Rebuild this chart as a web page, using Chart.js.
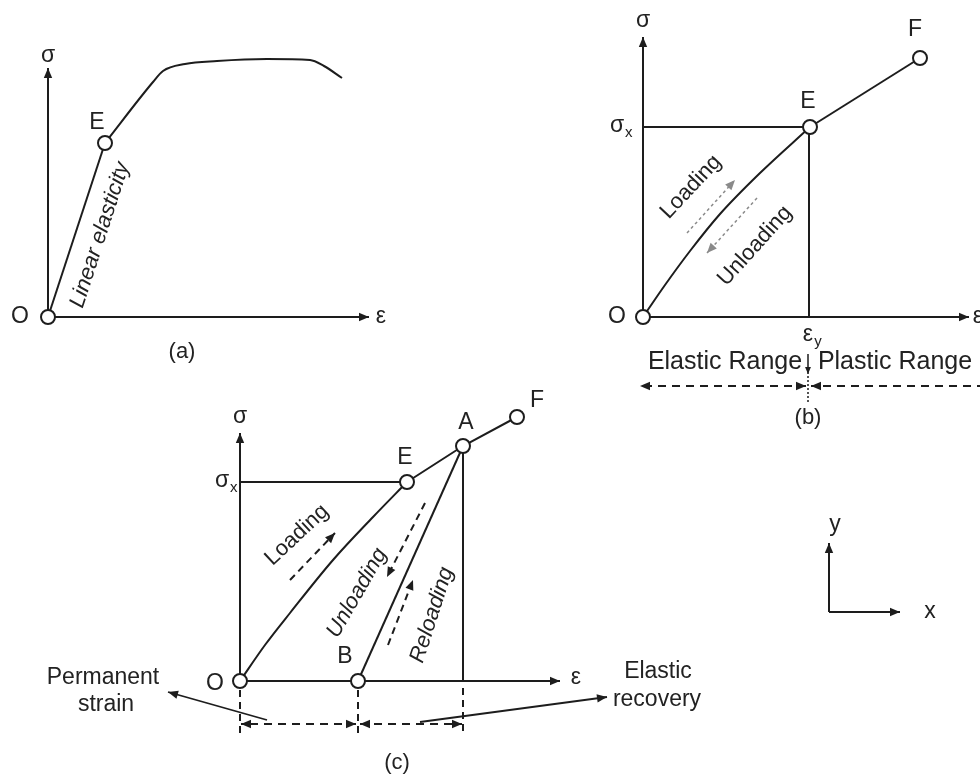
<!DOCTYPE html>
<html>
<head>
<meta charset="utf-8">
<script src="https://cdn.jsdelivr.net/npm/chart.js@4.4.0/dist/chart.umd.min.js"></script>
<style>
  html, body { margin: 0; padding: 0; background: #fff; }
  canvas { display: block; }
</style>
</head>
<body>
<canvas id="diagram" width="980" height="778"></canvas>
<script>
// Diagram data (sheet units, y grows downward)

// (a) linear elasticity
const aAxisY = [[48, 317], [48, 68]];
const aAxisX = [[48, 317], [369, 317]];
const aLinear = [[48, 317], [105, 143]];
const aCurve = [[105, 143], [153, 82], [163, 71], [185, 64], [217, 61], [267, 59], [310, 60], [324, 66], [342, 78]];
const aPoints = [[48, 317], [105, 143]];

// (b) elastic / plastic range
const bAxisY = [[643, 317], [643, 37]];
const bAxisX = [[643, 317], [969, 317]];
const bSigmaX = [[643, 127], [810, 127]];
const bEpsY = [[809, 127], [809, 317]];
const bCurve = [[643, 317], [665, 285], [690, 251], [720, 214], [760, 173], [810, 127]];
const bPlastic = [[810, 127], [920, 58]];
const bPoints = [[643, 317], [810, 127], [920, 58]];
const bLoadArrow = [[687, 233], [735, 180]];
const bUnloadArrow = [[757, 198], [707, 253]];
const bMarkArrow = [[808, 354], [808, 374]];
const bElasticRange = [[806, 386], [640, 386]];
const bPlasticRange = [[985, 386], [811, 386]];
const bDivider = [[808, 376], [808, 402]];

// (c) loading / unloading / reloading
const cAxisY = [[240, 681], [240, 433]];
const cAxisX = [[240, 681], [560, 681]];
const cSigmaX = [[240, 482], [407, 482]];
const cCurve = [[240, 681], [265, 645], [290, 613], [333, 560], [373, 517], [407, 482]];
const cPlastic = [[407, 482], [463, 446], [517, 417]];
const cUnload = [[358, 681], [463, 446]];
const cDrop = [[463, 446], [463, 681]];
const cTicks = [[[240, 690], [240, 734]], [[358, 690], [358, 734]], [[463, 688], [463, 734]]];
const cPermanent = [[356, 724], [241, 724]];
const cRecovery = [[360, 724], [462, 724]];
const cPermanentNote = [[267, 720], [168, 692]];
const cRecoveryNote = [[420, 722], [607, 697]];
const cLoadArrow = [[290, 580], [335, 533]];
const cUnloadArrow = [[425, 503], [387, 577]];
const cReloadArrow = [[388, 645], [413, 580]];
const cPoints = [[240, 681], [358, 681], [407, 482], [463, 446], [517, 417]];

// axes symbol
const xyAxisY = [[829, 612], [829, 543]];
const xyAxisX = [[829, 612], [900, 612]];

// text: [text, x, y, subscript]
const symbols = [
  ['σ', 48, 56], ['E', 97, 123], ['O', 20, 317], ['ε', 381, 317],
  ['σ', 643, 21], ['σ', 617, 126, 'x'], ['E', 808, 102], ['F', 915, 30],
  ['O', 617, 317], ['ε', 978, 317], ['ε', 808, 335, 'y'],
  ['σ', 240, 417], ['σ', 222, 481, 'x'], ['E', 405, 458], ['A', 466, 423],
  ['F', 537, 401], ['O', 215, 684], ['B', 345, 657], ['ε', 576, 678],
  ['y', 835, 525], ['x', 930, 612]
];
const captions = [
  ['(a)', 182, 352], ['(b)', 808, 418], ['(c)', 397, 763]
];
const notes = [
  ['Elastic Range', 725, 362], ['Plastic Range', 895, 362],
  ['Permanent', 103, 678], ['strain', 106, 705],
  ['Elastic', 658, 672], ['recovery', 657, 700]
];
// rotated: [text, x, y, angle in degrees]
const slanted = [
  ['Linear elasticity', 100, 235, -72], ['Loading', 691, 187, -47],
  ['Unloading', 755, 246, -48], ['Loading', 297, 535, -43],
  ['Unloading', 357, 593, -60], ['Reloading', 432, 615, -72]
];

const ink = '#1d1d1d';
const FONT = '"Liberation Sans", Arial, sans-serif';

function xy(points) {
  return points.map(p => ({ x: p[0], y: p[1] }));
}

function line(points, extra) {
  return Object.assign({
    type: 'scatter',
    data: xy(points),
    showLine: true,
    pointRadius: 0,
    borderColor: ink,
    borderWidth: 2,
    tension: 0,
    fill: false
  }, extra || {});
}

function rings(points) {
  return {
    type: 'scatter',
    data: xy(points),
    pointRadius: 7,
    pointHoverRadius: 7,
    pointBackgroundColor: '#fff',
    pointBorderColor: ink,
    pointBorderWidth: 2,
    showLine: false,
    order: -1
  };
}

const dash = [8, 6];
const grey = { borderColor: '#8a8a8a', borderWidth: 1.5, borderDash: [3, 3] };

const datasets = [
  line(aAxisY, { arrowEnd: true }),
  line(aAxisX, { arrowEnd: true }),
  line(aLinear),
  line(aCurve, { cubicInterpolationMode: 'monotone' }),
  rings(aPoints),

  line(bAxisY, { arrowEnd: true }),
  line(bAxisX, { arrowEnd: true }),
  line(bSigmaX),
  line(bEpsY),
  line(bCurve, { cubicInterpolationMode: 'monotone' }),
  line(bPlastic),
  rings(bPoints),
  line(bLoadArrow, Object.assign({ arrowEnd: true }, grey)),
  line(bUnloadArrow, Object.assign({ arrowEnd: true }, grey)),
  line(bMarkArrow, { borderWidth: 1.5, arrowEnd: true, arrowSize: 7 }),
  line(bElasticRange, { borderDash: dash, arrowEnd: true, arrowStart: true }),
  line(bPlasticRange, { borderDash: dash, arrowEnd: true }),
  line(bDivider, { borderWidth: 1.5, borderDash: [2, 2] }),

  line(cAxisY, { arrowEnd: true }),
  line(cAxisX, { arrowEnd: true }),
  line(cSigmaX),
  line(cCurve, { cubicInterpolationMode: 'monotone' }),
  line(cPlastic),
  line(cUnload),
  line(cDrop),
  ...cTicks.map(t => line(t, { borderDash: [7, 5] })),
  line(cPermanent, { borderDash: dash, arrowEnd: true, arrowStart: true }),
  line(cRecovery, { borderDash: dash, arrowEnd: true, arrowStart: true }),
  line(cPermanentNote, { borderWidth: 1.8, arrowEnd: true }),
  line(cRecoveryNote, { borderWidth: 1.8, arrowEnd: true }),
  line(cLoadArrow, { borderDash: [7, 5], arrowEnd: true }),
  line(cUnloadArrow, { borderDash: [7, 5], arrowEnd: true }),
  line(cReloadArrow, { borderDash: [7, 5], arrowEnd: true }),
  rings(cPoints),

  line(xyAxisY, { arrowEnd: true }),
  line(xyAxisX, { arrowEnd: true })
];

// arrow heads at the ends of flagged lines
const arrowHeads = {
  id: 'arrowHeads',
  afterDatasetsDraw(chart) {
    const ctx = chart.ctx;
    chart.data.datasets.forEach((ds, i) => {
      if (!ds.arrowEnd && !ds.arrowStart) return;
      const pts = chart.getDatasetMeta(i).data;
      const size = ds.arrowSize || 10;
      const head = (from, to) => {
        const ang = Math.atan2(to.y - from.y, to.x - from.x);
        ctx.save();
        ctx.translate(to.x, to.y);
        ctx.rotate(ang);
        ctx.beginPath();
        ctx.moveTo(0, 0);
        ctx.lineTo(-size, -size * 0.42);
        ctx.lineTo(-size, size * 0.42);
        ctx.closePath();
        ctx.fillStyle = ds.borderColor;
        ctx.fill();
        ctx.restore();
      };
      if (ds.arrowEnd) head(pts[pts.length - 2], pts[pts.length - 1]);
      if (ds.arrowStart) head(pts[1], pts[0]);
    });
  }
};

// text labels placed through the scales
const labelText = {
  id: 'labelText',
  afterDraw(chart) {
    const ctx = chart.ctx;
    const sx = chart.scales.x, sy = chart.scales.y;
    const px = v => sx.getPixelForValue(v);
    const py = v => sy.getPixelForValue(v);
    ctx.save();
    ctx.fillStyle = '#222';
    ctx.textAlign = 'center';
    ctx.textBaseline = 'middle';

    symbols.forEach(([t, x, y, sub]) => {
      ctx.font = '23px ' + FONT;
      ctx.fillText(t, px(x), py(y));
      if (sub) {
        const w = ctx.measureText(t).width;
        ctx.font = '15px ' + FONT;
        ctx.textAlign = 'left';
        ctx.fillText(sub, px(x) + w / 2 + 1, py(y) + 7);
        ctx.textAlign = 'center';
      }
    });

    ctx.font = '22px ' + FONT;
    captions.forEach(([t, x, y]) => ctx.fillText(t, px(x), py(y)));

    notes.forEach(([t, x, y]) => {
      ctx.font = (t.includes('Range') ? '25px ' : '23px ') + FONT;
      ctx.fillText(t, px(x), py(y));
    });

    slanted.forEach(([t, x, y, deg]) => {
      ctx.save();
      ctx.translate(px(x), py(y));
      ctx.rotate(deg * Math.PI / 180);
      ctx.font = (t.startsWith('Linear') || t === 'Reloading' || (t === 'Unloading' && x < 500) ? 'italic ' : '') + '22px ' + FONT;
      ctx.fillText(t, 0, 0);
      ctx.restore();
    });
    ctx.restore();
  }
};

new Chart(document.getElementById('diagram').getContext('2d'), {
  data: { datasets: datasets },
  options: {
    responsive: false,
    animation: false,
    devicePixelRatio: 1,
    layout: { padding: 0, autoPadding: false },
    plugins: { legend: { display: false }, tooltip: { enabled: false } },
    events: [],
    scales: {
      x: { type: 'linear', min: 0, max: 980, display: false },
      y: { type: 'linear', min: 0, max: 778, reverse: true, display: false }
    }
  },
  plugins: [arrowHeads, labelText]
});
</script>
</body>
</html>
